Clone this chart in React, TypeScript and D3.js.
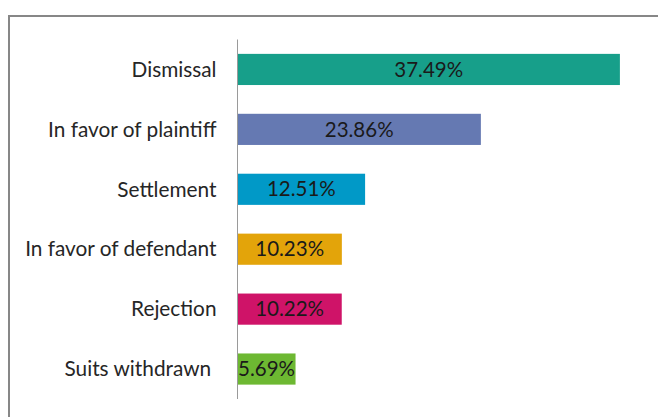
import React, { useEffect, useRef } from 'react';
import * as d3 from 'd3';

// data
const categories = [
  'Dismissal',
  'In favor of plaintiff',
  'Settlement',
  'In favor of defendant',
  'Rejection',
  'Suits withdrawn ',
];
const shares = [37.49, 23.86, 12.51, 10.23, 10.22, 5.69];
const valueLabels = ['37.49%', '23.86%', '12.51%', '10.23%', '10.22%', '5.69%'];
const barColors = ['#179F8A', '#6579B2', '#0199C7', '#E3A40A', '#CF1368', '#6DB832'];

const WIDTH = 658;
const HEIGHT = 417;
const FONT = 'Lato, "Open Sans", sans-serif';

export default function App() {
  const ref = useRef<SVGSVGElement>(null);

  useEffect(() => {
    draw();
    // eslint-disable-next-line react-hooks/exhaustive-deps
  }, []);

  function draw() {
    const svg = d3.select(ref.current);
    svg.selectAll('*').remove();

    const rows = categories.map((name, i) => ({
      name,
      value: shares[i],
      label: valueLabels[i],
      color: barColors[i],
    }));

    // outer chart frame (runs off the right and bottom edges)
    svg
      .append('rect')
      .attr('x', 9)
      .attr('y', 16)
      .attr('width', 720)
      .attr('height', 460)
      .attr('fill', '#fff')
      .attr('stroke', '#878787')
      .attr('stroke-width', 2);

    const xScale = d3.scaleLinear().domain([0, 40]).range([237.5, 645.5]);
    const yScale = d3
      .scaleBand<string>()
      .domain(categories)
      .range([39.5, 399])
      .paddingInner(0.48)
      .paddingOuter(0.24);

    const g = svg.append('g');

    g.selectAll('rect.bar')
      .data(rows)
      .join('rect')
      .attr('class', 'bar')
      .attr('x', xScale(0))
      .attr('y', (d) => yScale(d.name)!)
      .attr('width', (d) => xScale(d.value) - xScale(0))
      .attr('height', yScale.bandwidth())
      .attr('fill', (d) => d.color);

    // category axis
    g.append('line')
      .attr('x1', xScale(0))
      .attr('x2', xScale(0))
      .attr('y1', yScale.range()[0])
      .attr('y2', yScale.range()[1])
      .attr('stroke', '#9a9a9a')
      .attr('stroke-width', 1);

    g.selectAll('text.cat')
      .data(rows)
      .join('text')
      .attr('class', 'cat')
      .attr('x', xScale(0) - 21)
      .attr('y', (d) => yScale(d.name)! + yScale.bandwidth() / 2)
      .attr('dy', '0.35em')
      .attr('text-anchor', 'end')
      .style('white-space', 'pre')
      .attr('font-family', FONT)
      .attr('font-size', 20.8)
      .attr('fill', '#262626')
      .text((d) => d.name);

    g.selectAll('text.val')
      .data(rows)
      .join('text')
      .attr('class', 'val')
      .attr('x', (d) => (xScale(0) + xScale(d.value)) / 2)
      .attr('y', (d) => yScale(d.name)! + yScale.bandwidth() / 2)
      .attr('dy', '0.35em')
      .attr('text-anchor', 'middle')
      .attr('font-family', FONT)
      .attr('font-size', 20.5)
      .attr('fill', '#1a1a1a')
      .text((d) => d.label);
  }

  return (
    <svg
      ref={ref}
      width={WIDTH}
      height={HEIGHT}
      style={{ position: 'absolute', left: 0, top: 0, background: '#fff' }}
    />
  );
}
